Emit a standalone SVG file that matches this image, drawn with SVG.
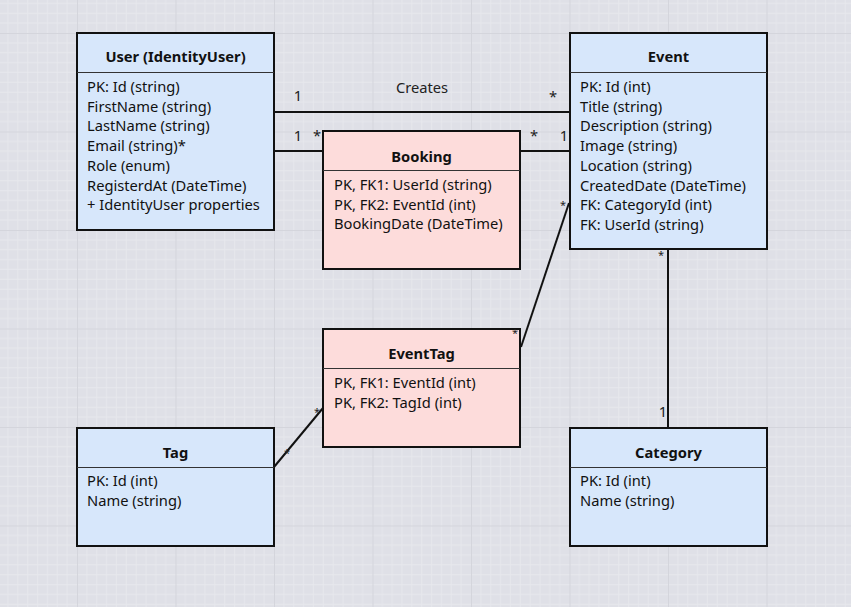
<svg xmlns="http://www.w3.org/2000/svg" width="851" height="607" viewBox="0 0 851 607">
<defs>
<style>
.ent{stroke:#111;stroke-width:2}
.blue{fill:#d7e7fb}
.pink{fill:#fddcdb}
.div{stroke:#333;stroke-width:1}
.t{font-family:"Segoe UI","Noto Sans","Open Sans",sans-serif;font-size:14.7px;fill:#111}
.b{font-weight:bold;text-anchor:middle}
.c{stroke:#111;stroke-width:2;fill:none}
.lbl{font-family:"Segoe UI","Noto Sans","Open Sans",sans-serif;font-size:14.7px;fill:#222}
.sm{font-family:"Segoe UI","Noto Sans","Open Sans",sans-serif;font-size:11px;fill:#222}
</style>
<pattern id="grid" patternUnits="userSpaceOnUse" x="77" y="33" width="98.5" height="98.5">
<rect width="98.5" height="98.5" fill="#dfe0e7"/>
<path d="M9.85 0V98.5M19.7 0V98.5M29.55 0V98.5M39.4 0V98.5M49.25 0V98.5M59.1 0V98.5M68.95 0V98.5M78.8 0V98.5M88.65 0V98.5M0 9.85H98.5M0 19.7H98.5M0 29.55H98.5M0 39.4H98.5M0 49.25H98.5M0 59.1H98.5M0 68.95H98.5M0 78.8H98.5M0 88.65H98.5" stroke="#e7e8ed" stroke-width="1"/>
<path d="M0.5 0V98.5M0 0.5H98.5" stroke="#d4d5dc" stroke-width="1"/>
</pattern>
</defs>
<rect width="851" height="607" fill="url(#grid)"/>

<g id="user">
<rect class="ent blue" x="77" y="33" width="197" height="197"/>
<line class="div" x1="77" y1="72.5" x2="274" y2="72.5"/>
<text class="t b" x="175.5" y="62">User (IdentityUser)</text>
<text class="t" x="87" y="92">PK: Id (string)</text>
<text class="t" x="87" y="111.7">FirstName (string)</text>
<text class="t" x="87" y="131.4">LastName (string)</text>
<text class="t" x="87" y="151.1">Email (string)*</text>
<text class="t" x="87" y="170.8">Role (enum)</text>
<text class="t" x="87" y="190.5">RegisterdAt (DateTime)</text>
<text class="t" x="87" y="210.2">+ IdentityUser properties</text>
</g>

<g id="event">
<rect class="ent blue" x="570" y="33" width="197" height="216"/>
<line class="div" x1="570" y1="72.5" x2="767" y2="72.5"/>
<text class="t b" x="668.5" y="62">Event</text>
<text class="t" x="580" y="92">PK: Id (int)</text>
<text class="t" x="580" y="111.7">Title (string)</text>
<text class="t" x="580" y="131.4">Description (string)</text>
<text class="t" x="580" y="151.1">Image (string)</text>
<text class="t" x="580" y="170.8">Location (string)</text>
<text class="t" x="580" y="190.5">CreatedDate (DateTime)</text>
<text class="t" x="580" y="210.2">FK: CategoryId (int)</text>
<text class="t" x="580" y="229.9">FK: UserId (string)</text>
</g>

<g id="booking">
<rect class="ent pink" x="323" y="131" width="197" height="138"/>
<line class="div" x1="323" y1="170.5" x2="520" y2="170.5"/>
<text class="t b" x="421.5" y="162">Booking</text>
<text class="t" x="334" y="190">PK, FK1: UserId (string)</text>
<text class="t" x="334" y="209.7">PK, FK2: EventId (int)</text>
<text class="t" x="334" y="229.4">BookingDate (DateTime)</text>
</g>

<g id="eventtag">
<rect class="ent pink" x="323" y="329" width="197" height="118"/>
<line class="div" x1="323" y1="368.5" x2="520" y2="368.5"/>
<text class="t b" x="421.5" y="359">EventTag</text>
<text class="t" x="334" y="388">PK, FK1: EventId (int)</text>
<text class="t" x="334" y="407.7">PK, FK2: TagId (int)</text>
</g>

<g id="tag">
<rect class="ent blue" x="77" y="428" width="197" height="118"/>
<line class="div" x1="77" y1="467.5" x2="274" y2="467.5"/>
<text class="t b" x="175.5" y="458">Tag</text>
<text class="t" x="87" y="486">PK: Id (int)</text>
<text class="t" x="87" y="505.7">Name (string)</text>
</g>

<g id="category">
<rect class="ent blue" x="570" y="428" width="197" height="118"/>
<line class="div" x1="570" y1="467.5" x2="767" y2="467.5"/>
<text class="t b" x="668.5" y="458">Category</text>
<text class="t" x="580" y="486">PK: Id (int)</text>
<text class="t" x="580" y="505.7">Name (string)</text>
</g>

<g id="connectors">
<line class="c" x1="275" y1="112" x2="569" y2="112"/>
<line class="c" x1="275" y1="151" x2="322" y2="151"/>
<line class="c" x1="521" y1="151" x2="569" y2="151"/>
<line class="c" x1="521" y1="347" x2="569" y2="203"/>
<line class="c" x1="274" y1="467" x2="323" y2="408"/>
<line class="c" x1="668" y1="250" x2="668" y2="427" stroke="#333"/>
<text class="lbl" x="422" y="93" text-anchor="middle">Creates</text>
<text class="lbl" x="298" y="101" text-anchor="middle">1</text>
<text class="lbl" x="553" y="102" text-anchor="middle">*</text>
<text class="lbl" x="298" y="141" text-anchor="middle">1</text>
<text class="lbl" x="317" y="141" text-anchor="middle">*</text>
<text class="lbl" x="534" y="141" text-anchor="middle">*</text>
<text class="lbl" x="564" y="141" text-anchor="middle">1</text>
<text class="sm" x="563" y="209" text-anchor="middle">*</text>
<text class="sm" x="515" y="337" text-anchor="middle">*</text>
<text class="sm" x="317" y="416" text-anchor="middle">*</text>
<text class="sm" x="287" y="457" text-anchor="middle">*</text>
<text class="sm" x="661" y="259" text-anchor="middle">*</text>
<text class="lbl" x="663" y="417" text-anchor="middle">1</text>
</g>
</svg>
